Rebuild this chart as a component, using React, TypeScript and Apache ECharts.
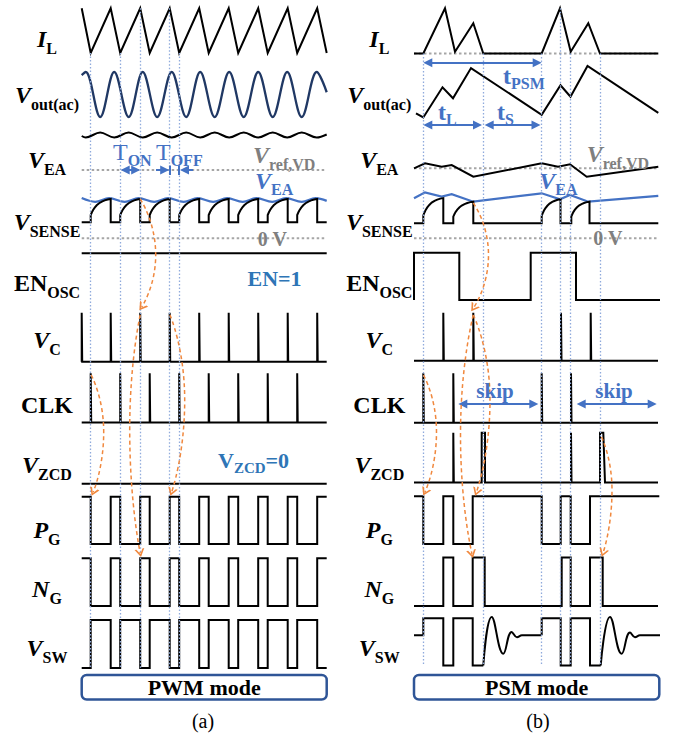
import React, { useEffect, useRef } from "react";
import * as echarts from "echarts";

const WIDTH = 673;
const HEIGHT = 739;
const SERIF = "Liberation Serif, Times New Roman, Times, serif";

const INK = "#000000";
const NAVY = "#203864";
const BLUE = "#4472c4";
const BLUE_NOTE = "#2e75b6";
const GREY_TEXT = "#7f7f7f";
const GREY_DOT = "#a6a6a6";
const GUIDE = "#8faadc";
const ORANGE = "#f0883e";
const FRAME = "#2f5597";

type Pt = [number, number];
type Row = [number, number]; // [y of level 0, y of level 1]

// Each panel's time axis runs from 0 to SPAN
const SPAN = 245;
const PANEL_A_X = 81.7;
const PANEL_B_X = 414;

/* ================= (a) PWM mode ================= */
const pwmOnStart = [9, 38.5, 68, 97.5, 127, 156.5, 186, 215.5];
const pwmOnEnd = [0, 29, 58.5, 88, 117.5, 147, 176.5, 206, 235.5];
const pwmVout: Pt[] = [
  [0, 0.93], [4, 1], [18.5, 0], [32.5, 1], [47, 0], [61, 1], [75.5, 0], [90, 1],
  [104.5, 0], [118.5, 1], [133, 0], [147.5, 1], [162, 0], [176.5, 1], [191, 0],
  [205.5, 1], [220, 0], [235, 1], [245, 0.55],
];
const pwmEaRipple: Pt[] = [
  [0, 0.3], [4, 0], [18.5, 1], [32.5, 0], [47, 1], [61, 0], [75.5, 1], [90, 0],
  [104.5, 1], [118.5, 0], [133, 1], [147.5, 0], [162, 1], [176.5, 0], [191, 1],
  [205.5, 0], [220, 1], [235, 0], [245, 0.6],
];
const pwmEaOnSense: Pt[] = [
  [0, 1.04], [13.5, 0.88], [27.5, 1.04], [43, 0.88], [57, 1.04], [72.5, 0.88],
  [86.5, 1.04], [102, 0.88], [116, 1.04], [131.5, 0.88], [145.5, 1.04], [161, 0.88],
  [175, 1.04], [190.5, 0.88], [204.5, 1.04], [220, 0.88], [234, 1.04], [245, 0.92],
];
const pwmGuides: Pt[] = [[9, 0], [38.5, 0], [58.5, 1], [88, 1], [97.5, 0]]; // [t, I_L level]

/* ================= (b) PSM mode ================= */
const psmInductor: Pt[] = [
  [0, 0], [9.3, 0], [31, 1], [41, 0.04], [59.3, 0.67], [69.3, 0], [127.7, 0],
  [146, 1], [156.7, 0.04], [174.3, 0.67], [186, 0], [244.3, 0],
];
const psmVout: Pt[] = [
  [2, 0.09], [9.3, 0.01], [28.5, 0.59], [39, 0.38], [57, 0.96], [127.7, 0.06],
  [146.5, 0.63], [156.5, 0.41], [173.5, 1], [244.3, 0.1],
];
const psmEa: Pt[] = [
  [0, 0], [11, 0.5], [27.7, 0.16], [37.7, 0.33], [59.3, -0.84], [127.7, 0.5],
  [144, 0.16], [156, 0.4], [172.7, -0.84], [244.3, 0.16],
];
const psmEaOnSense: Pt[] = [
  [0, 1.04], [11, 1.29], [27.7, 1.11], [37.7, 1.21], [59.3, 0.9], [127.7, 1.25],
  [146, 1.0], [156, 1.18], [174.3, 0.9], [244.3, 1.14],
];
const psmSenseOn: [number, number, number][] = [
  [9.3, 29.3, 1.05], [39.3, 59.3, 0.9], [127.7, 146.5, 1.0], [157.3, 175.5, 0.9],
];
const psmEnable: Pt[] = [
  [0, 0], [0, 1], [45.3, 1], [45.3, 0], [116.7, 0], [116.7, 1], [162, 1], [162, 0], [246, 0],
];
const psmVcPulses = [29.3, 59.3, 147, 176.7];
const psmClkPulses = [9.3, 39.3, 127.7, 157];
const psmZcd: Pt[] = [
  [0, 0], [39.3, 0], [39.3, 1], [39.8, 1], [39.8, 0], [67.7, 0], [67.7, 1], [71, 1], [71, 0],
  [157, 0], [157, 1], [157.5, 1], [157.5, 0], [186, 0], [186, 1], [189.3, 1], [191, 0], [244, 0],
];
const psmPg: Pt[] = [
  [0, 1], [9.3, 1], [9.3, 0], [29.3, 0], [29.3, 1], [39.3, 1], [39.3, 0], [58.7, 0], [58.7, 1],
  [127.7, 1], [127.7, 0], [146.7, 0], [146.7, 1], [156.7, 1], [156.7, 0], [176, 0], [176, 1], [245.3, 1],
];
const psmNg: Pt[] = [
  [0, 0], [29.3, 0], [29.3, 1], [39.3, 1], [39.3, 0], [58.7, 0], [58.7, 1], [70.7, 1], [70.7, 0],
  [147.7, 0], [147.7, 1], [156.7, 1], [156.7, 0], [176, 0], [176, 1], [188.7, 1], [188.7, 0], [244, 0],
];
const psmSwBurst1: Pt[] = [
  [0, 0.64], [9.3, 0.64], [9.3, 1], [29.3, 1], [29.3, 0], [39.3, 0], [39.3, 1], [58.7, 1], [58.7, 0], [69.3, 0],
];
const psmSwRing1: Pt[] = [
  [69.3, 0], [77.7, 1.03], [89.3, 0.25], [97.7, 0.71], [103, 0.6], [108, 0.64], [127.7, 0.64],
];
const psmSwBurst2: Pt[] = [
  [127.7, 0.64], [127.7, 1], [146.7, 1], [146.7, 0], [156.7, 0], [156.7, 1], [176, 1], [176, 0], [186.7, 0],
];
const psmSwRing2: Pt[] = [
  [186.7, 0], [196, 1.03], [207.7, 0.25], [216, 0.7], [221, 0.6], [226, 0.64], [246, 0.64],
];
const psmGuides: Pt[] = [[9.3, 0], [69.3, 0], [127.7, 0], [146.7, 1], [156.7, 0], [186.7, 0]];

/* ================= layout (y of level 0 / level 1, px) ================= */
const rowsA: Record<string, Row> = {
  il: [53, 8.3], vout: [117, 72], ripple: [137.5, 132.5], sense: [222.3, 199],
  en: [300, 253.3], vc: [361.7, 312.7], clk: [422.5, 373.3], zcd: [483.7, 433],
  pg: [544, 496.7], ng: [606, 558.3], sw: [668, 620],
};
const rowsB: Record<string, Row> = {
  il: [53.5, 8.3], vout: [118, 66], ea: [168.3, 158.3], sense: [223.3, 199.3],
  en: [300, 252.7], vc: [360.7, 312.7], clk: [422.7, 373.3], zcd: [482.5, 432.7],
  pg: [544, 496.3], ng: [606, 557.5], sw: [665.5, 618.3],
};
const VREF_Y_A = 170;
const VREF_Y_B = 168.3;
const ZERO_Y = 238.3;

// V_SENSE rise during an on-time (fraction of on-time, fraction of peak)
const senseShape: Pt[] = [
  [0, 0.31], [0.06, 0.43], [0.12, 0.53], [0.2, 0.63], [0.3, 0.73], [0.42, 0.82],
  [0.56, 0.89], [0.7, 0.94], [0.85, 0.98], [1, 1],
];

/* ================= builders ================= */
function pulses(times: number[], end: number, w = 0.5): Pt[] {
  const pts: Pt[] = [[0, 0]];
  times.forEach((t) => pts.push([t, 0], [t, 1], [t + w, 1], [t + w, 0]));
  pts.push([end, 0]);
  return pts;
}

function senseHumps(on: [number, number, number][], end: number): Pt[] {
  const pts: Pt[] = [[0, 0]];
  on.forEach(([s, e, top]) => {
    pts.push([s, 0]);
    senseShape.forEach(([f, v]) => pts.push([s + f * (e - s), v * top]));
    pts.push([e, 0]);
  });
  pts.push([end, 0]);
  return pts;
}

const pwmInductor: Pt[] = [
  ...pwmOnEnd.map((t) => [t, 1] as Pt),
  ...pwmOnStart.map((t) => [t, 0] as Pt),
  [SPAN, 0] as Pt,
].sort((a, b) => a[0] - b[0]);

function pwmGate(lowDuringOn: boolean): Pt[] {
  const hi = lowDuringOn ? 1 : 0;
  const lo = 1 - hi;
  const pts: Pt[] = [[0, hi]];
  pwmOnStart.forEach((s, i) => {
    const e = pwmOnEnd[i + 1];
    pts.push([s, hi], [s, lo], [e, lo], [e, hi]);
  });
  pts.push([SPAN, hi]);
  return pts;
}

const pwmSenseOn: [number, number, number][] = pwmOnStart.map((s, i) => [s, pwmOnEnd[i + 1], 1]);

function wave(panel: number, row: Row, pts: Pt[], o: any = {}) {
  return {
    type: "line",
    xAxisIndex: panel,
    yAxisIndex: panel,
    data: pts.map(([t, v]) => [t, row[0] - v * (row[0] - row[1])]),
    symbol: "none",
    showSymbol: false,
    smooth: o.smooth ?? false,
    clip: false,
    silent: true,
    z: o.z ?? 3,
    lineStyle: { color: o.color ?? INK, width: o.width ?? 2, type: o.type ?? "solid", cap: "butt", join: "miter" },
  };
}

function hline(panel: number, y: number, t0: number, t1: number) {
  return {
    type: "line",
    xAxisIndex: panel,
    yAxisIndex: panel,
    data: [[t0, y], [t1, y]],
    symbol: "none",
    showSymbol: false,
    clip: false,
    silent: true,
    z: 2,
    lineStyle: { color: GREY_DOT, width: 2, type: [2.5, 2.5] },
  };
}

function guideLines(panel: number, rows: Record<string, Row>, guides: Pt[]) {
  return {
    type: "line",
    xAxisIndex: panel,
    yAxisIndex: panel,
    data: [],
    silent: true,
    z: 1,
    markLine: {
      silent: true,
      animation: false,
      symbol: ["none", "none"],
      label: { show: false },
      lineStyle: { color: GUIDE, width: 1.3, type: [1.5, 2] },
      data: guides.map(([t, lvl]) => [
        { coord: [t, rows.il[0] - lvl * (rows.il[0] - rows.il[1])] },
        { coord: [t, rows.sw[0]] },
      ]),
    },
  };
}

type Arrow = { from: Pt; to: Pt; heads: "both" | "end" | "none" };
function blueArrows(panel: number, list: Arrow[]) {
  const HEAD = 9;
  return {
    type: "line",
    xAxisIndex: panel,
    yAxisIndex: panel,
    data: [],
    silent: true,
    z: 5,
    markLine: {
      silent: true,
      animation: false,
      label: { show: false },
      symbolSize: HEAD,
      lineStyle: { color: BLUE, width: 2, type: "solid" },
      data: list.map(({ from, to, heads }) => {
        const dx = to[0] - from[0];
        const dy = to[1] - from[1];
        const len = Math.hypot(dx, dy) || 1;
        const ux = dx / len;
        const uy = dy / len;
        const s = heads === "both" ? HEAD / 2 : 0;
        const e = heads === "none" ? 0 : HEAD / 2;
        return [
          { coord: [from[0] + ux * s, from[1] + uy * s], symbol: heads === "both" ? "triangle" : "none" },
          { coord: [to[0] - ux * e, to[1] - uy * e], symbol: heads === "none" ? "none" : "triangle" },
        ];
      }),
    },
  };
}

const CHEVRON = "path://M0,10L5,0L10,10L8,10L5,3.8L2,10Z";
function causeArrow(panel: number, pts: [Pt, Pt, Pt]) {
  const [S, M, E] = pts;
  const sm = 0.6;
  const cpx = M[0] + sm * 0.5 * (E[0] - S[0]);
  const cpy = M[1] + sm * 0.5 * (E[1] - S[1]);
  const rot = (Math.atan2(-(E[1] - cpy), E[0] - cpx) * 180) / Math.PI - 90;
  return {
    type: "line",
    xAxisIndex: panel,
    yAxisIndex: panel,
    smooth: sm,
    symbol: "none",
    showSymbol: true,
    showAllSymbol: true,
    clip: false,
    silent: true,
    z: 6,
    lineStyle: { color: ORANGE, width: 1.5, type: [4, 3] },
    itemStyle: { color: ORANGE },
    data: [S, M, { value: E, symbol: CHEVRON, symbolSize: [10, 8], symbolRotate: rot }],
  };
}

const causeA: [Pt, Pt, Pt][] = [
  [[58.5, 199], [74, 255], [60, 307]],
  [[58.5, 315], [48, 430], [58.5, 553]],
  [[9.5, 375], [22, 432], [11.5, 492]],
  [[88.3, 315], [103, 400], [90, 492]],
];
const causeB: [Pt, Pt, Pt][] = [
  [[59.3, 203], [74.5, 255], [59.5, 308]],
  [[59.3, 315], [46.5, 435], [58, 554]],
  [[59.3, 315], [76, 400], [62.5, 492]],
  [[9.5, 375], [22.5, 432], [11, 492]],
  [[187.5, 437], [198, 490], [189, 553]],
];

const arrowsA: Arrow[] = [
  { from: [39, 170], to: [58.5, 170], heads: "both" },
  { from: [74.3, 170], to: [87.5, 170], heads: "end" },
  { from: [111.3, 170], to: [98.3, 170], heads: "end" },
  { from: [88, 165.5], to: [88, 175], heads: "none" },
  { from: [97.5, 165.5], to: [97.5, 175], heads: "none" },
];
const arrowsB: Arrow[] = [
  { from: [9.3, 62.7], to: [127.7, 62.7], heads: "both" },
  { from: [9.3, 125], to: [68, 125], heads: "both" },
  { from: [70.7, 125], to: [126.5, 125], heads: "both" },
  { from: [44.3, 404], to: [124.3, 404], heads: "both" },
  { from: [162.7, 404], to: [242.7, 404], heads: "both" },
];

/* ================= texts ================= */
type Seg = { t: string; size: number; italic?: boolean; bold?: boolean; sub?: boolean };
let measureCtx: CanvasRenderingContext2D | null = null;
function fontOf(s: Seg) {
  return `${s.italic ? "italic" : "normal"} ${s.bold === false ? "normal" : "bold"} ${s.size}px ${SERIF}`;
}
function measure(s: Seg) {
  if (!measureCtx) measureCtx = document.createElement("canvas").getContext("2d");
  if (!measureCtx) return s.t.length * s.size * 0.55;
  measureCtx.font = fontOf(s);
  return measureCtx.measureText(s.t).width;
}
function textRun(segs: Seg[], x: number, y: number, align: "left" | "center", color: string, subShift = 9) {
  const widths = segs.map(measure);
  const total = widths.reduce((a, b) => a + b, 0);
  let cx = align === "center" ? x - total / 2 : x;
  return segs.map((s, i) => {
    const el = {
      type: "text",
      x: cx,
      y: y + (s.sub ? subShift : 0),
      silent: true,
      z: 20,
      style: {
        text: s.t,
        fontSize: s.size,
        fontWeight: s.bold === false ? "normal" : "bold",
        fontStyle: s.italic ? "italic" : "normal",
        fontFamily: SERIF,
        fill: color,
        align: "left",
        verticalAlign: "middle",
      },
    };
    cx += widths[i];
    return el;
  });
}
const M = (t: string, italic = true): Seg => ({ t, size: 24, italic });
const S = (t: string): Seg => ({ t, size: 16, sub: true });

const signalLabels: { y: number; segs: Seg[] }[] = [
  { y: 39, segs: [M("I"), S("L")] },
  { y: 95, segs: [M("V"), S("out(ac)")] },
  { y: 160, segs: [M("V"), S("EA")] },
  { y: 222, segs: [M("V"), S("SENSE")] },
  { y: 283, segs: [M("EN", false), S("OSC")] },
  { y: 340, segs: [M("V"), S("C")] },
  { y: 405, segs: [M("CLK", false)] },
  { y: 465, segs: [M("V"), S("ZCD")] },
  { y: 530, segs: [M("P"), S("G")] },
  { y: 589, segs: [M("N"), S("G")] },
  { y: 648, segs: [M("V"), S("SW")] },
];
const LABEL_CX_A = 47;
const LABEL_CX_B = 379.3;

function buildGraphics() {
  const els: any[] = [];
  // mode frames
  [
    { x: 81.7, w: 245, text: "PWM mode", cap: "(a)", capX: 203 },
    { x: 414, w: 245.3, text: "PSM mode", cap: "(b)", capX: 538 },
  ].forEach((b) => {
    els.push({
      type: "rect",
      silent: true,
      z: 8,
      shape: { x: b.x, y: 675, width: b.w, height: 24.5, r: 5 },
      style: { fill: "#ffffff", stroke: FRAME, lineWidth: 2.5 },
    });
    els.push(...textRun([{ t: b.text, size: 22 }], b.x + b.w / 2, 687.5, "center", INK));
    els.push(...textRun([{ t: b.cap, size: 20, bold: false }], b.capX, 721, "center", INK));
  });
  // signal names
  signalLabels.forEach((l) => {
    els.push(...textRun(l.segs, LABEL_CX_A, l.y, "center", INK));
    els.push(...textRun(l.segs, LABEL_CX_B, l.y, "center", INK));
  });
  // annotations, panel (a)
  els.push(...textRun([{ t: "T", size: 24, bold: false }, { t: "ON", size: 16, sub: true }], 113, 152, "left", BLUE, 8));
  els.push(...textRun([{ t: "T", size: 24, bold: false }, { t: "OFF", size: 16, sub: true }], 156, 152, "left", BLUE, 8));
  els.push(...textRun([M("V"), S("ref,VD")], 253, 155, "left", GREY_TEXT));
  els.push(...textRun([M("V"), S("EA")], 255, 181, "left", BLUE, 8));
  els.push(...textRun([{ t: "0 V", size: 20 }], 272.5, 238.5, "center", GREY_TEXT));
  els.push(...textRun([{ t: "EN=1", size: 22 }], 274.5, 278, "center", BLUE_NOTE));
  els.push(
    ...textRun([{ t: "V", size: 22 }, { t: "ZCD", size: 15, sub: true }, { t: "=0", size: 22 }], 218, 460, "left", BLUE_NOTE, 8)
  );
  // annotations, panel (b)
  els.push(...textRun([M("V"), S("ref,VD")], 586.7, 154, "left", GREY_TEXT));
  els.push(...textRun([M("V"), S("EA")], 539.3, 181, "left", BLUE, 8));
  els.push(...textRun([{ t: "0 V", size: 20 }], 608, 238, "center", GREY_TEXT));
  els.push(...textRun([{ t: "t", size: 24 }, S("L")], 438, 112, "left", BLUE, 7));
  els.push(...textRun([{ t: "t", size: 24 }, S("S")], 497, 112, "left", BLUE, 7));
  els.push(...textRun([{ t: "t", size: 24 }, S("PSM")], 503, 76, "left", BLUE, 7));
  els.push(...textRun([{ t: "skip", size: 21 }], 495, 391, "center", BLUE));
  els.push(...textRun([{ t: "skip", size: 21 }], 614, 391, "center", BLUE));
  return els;
}

function buildOption() {
  const A = rowsA;
  const B = rowsB;
  const series: any[] = [
    // guides
    guideLines(0, A, pwmGuides),
    guideLines(1, B, psmGuides),
    // reference levels
    hline(0, VREF_Y_A, 0, SPAN),
    hline(0, ZERO_Y, 0, SPAN),
    hline(1, VREF_Y_B, 0, SPAN),
    hline(1, ZERO_Y, 0, SPAN),
    hline(1, B.il[0], 0, SPAN),

    // ----- (a) PWM -----
    wave(0, A.il, pwmInductor),
    wave(0, A.vout, pwmVout, { smooth: 0.36, color: NAVY, width: 2.3 }),
    wave(0, A.ripple, pwmEaRipple, { smooth: 0.36 }),
    wave(0, A.sense, pwmEaOnSense, { smooth: 0.36, color: BLUE, width: 2.2 }),
    wave(0, A.sense, senseHumps(pwmSenseOn, SPAN), { z: 4 }),
    wave(0, A.en, [[0, 1], [SPAN, 1]]),
    wave(0, A.vc, pulses(pwmOnEnd, SPAN)),
    wave(0, A.clk, pulses(pwmOnStart, SPAN)),
    wave(0, A.zcd, [[0, 0], [SPAN, 0]]),
    wave(0, A.pg, pwmGate(true)),
    wave(0, A.ng, pwmGate(true)),
    wave(0, A.sw, pwmGate(false)),

    // ----- (b) PSM -----
    wave(1, B.il, psmInductor),
    wave(1, B.vout, psmVout),
    wave(1, B.ea, psmEa),
    wave(1, B.sense, psmEaOnSense, { color: BLUE, width: 2.2 }),
    wave(1, B.sense, senseHumps(psmSenseOn, 244.3), { z: 4 }),
    wave(1, B.en, psmEnable),
    wave(1, B.vc, pulses(psmVcPulses, 244)),
    wave(1, B.clk, pulses(psmClkPulses, 244)),
    wave(1, B.zcd, psmZcd),
    wave(1, B.pg, psmPg),
    wave(1, B.ng, psmNg),
    wave(1, B.sw, psmSwBurst1),
    wave(1, B.sw, psmSwRing1, { smooth: 0.45 }),
    wave(1, B.sw, psmSwBurst2),
    wave(1, B.sw, psmSwRing2, { smooth: 0.45 }),

    // annotations
    blueArrows(0, arrowsA),
    blueArrows(1, arrowsB),
    ...causeA.map((p) => causeArrow(0, p)),
    ...causeB.map((p) => causeArrow(1, p)),
  ];

  return {
    animation: false,
    backgroundColor: "#ffffff",
    grid: [
      { left: PANEL_A_X, top: 0, width: SPAN, height: HEIGHT, containLabel: false },
      { left: PANEL_B_X, top: 0, width: SPAN, height: HEIGHT, containLabel: false },
    ],
    xAxis: [0, 1].map((i) => ({ type: "value", gridIndex: i, min: 0, max: SPAN, show: false })),
    yAxis: [0, 1].map((i) => ({ type: "value", gridIndex: i, min: 0, max: HEIGHT, inverse: true, show: false })),
    tooltip: { show: false },
    series,
    graphic: { elements: buildGraphics() },
  };
}

export default function App() {
  const ref = useRef<HTMLDivElement>(null);
  useEffect(() => {
    if (!ref.current) return;
    const chart = echarts.init(ref.current, undefined, { renderer: "svg", width: WIDTH, height: HEIGHT });
    chart.setOption(buildOption() as any);
    return () => chart.dispose();
  }, []);
  return (
    <div
      ref={ref}
      style={{ position: "absolute", left: 0, top: 0, width: WIDTH, height: HEIGHT, background: "#ffffff" }}
    />
  );
}
